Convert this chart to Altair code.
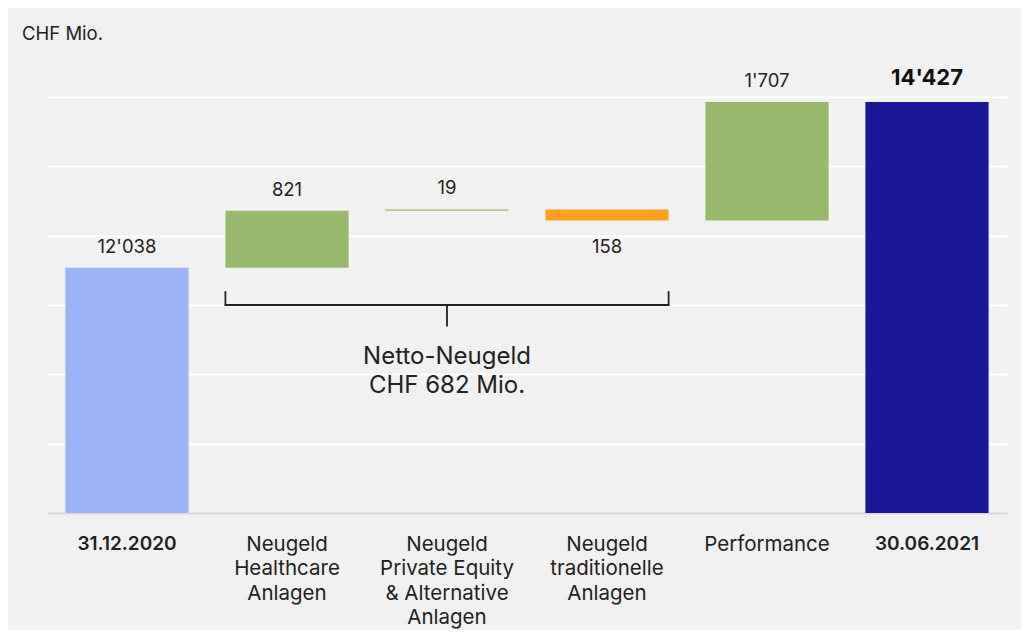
import altair as alt
import pandas as pd

# ---- data ----
categories = [
    "31.12.2020",
    "Neugeld|Healthcare|Anlagen",
    "Neugeld|Private Equity|& Alternative|Anlagen",
    "Neugeld|traditionelle|Anlagen",
    "Performance",
    "30.06.2021",
]
values = [12038, 821, 19, -158, 1707, 14427]
kinds = ["start", "up", "up", "down", "up", "end"]
value_labels = ["12'038", "821", "19", "158", "1'707", "14'427"]

axis_floor = 8500
grid_values = [9500, 10500, 11500, 12500, 13500, 14500]

bracket_from = categories[1]
bracket_mid = categories[2]
bracket_to = categories[3]
bracket_level = [11500]
bracket_arm = [11690]
bracket_tip = [11200]
bracket_text = ["Netto-Neugeld\nCHF 682 Mio."]
bracket_text_y = [10750]

# ---- waterfall table ----
rows = []
running = 0
for c, v, k, lab in zip(categories, values, kinds, value_labels):
    if k in ("start", "end"):
        lo, hi = axis_floor, v
        running = v
        top = v
    else:
        lo, hi = running, running + v
        running = running + v
        top = max(lo, hi)
    pos = "below" if k == "down" else "above"
    bold = k == "end"
    rows.append(dict(cat=c, lo=lo, hi=hi, kind=k, label=lab,
                     label_y=(min(lo, hi) if pos == "below" else top),
                     pos=pos, bold=bold))
df = pd.DataFrame(rows)

FONT = "Inter"
TXT = "#222222"
DATE_TEST = "datum.value == '31.12.2020' || datum.value == '30.06.2021'"

x_scale = alt.Scale(domain=categories, paddingInner=0.23, paddingOuter=0.115)
y_scale = alt.Scale(domain=[axis_floor, 14500], nice=False, zero=False)

x_enc = alt.X(
    "cat:N", scale=x_scale, sort=categories,
    axis=alt.Axis(
        title=None, labelAngle=0, ticks=False, grid=False,
        domainColor="#d9d9d9", domainWidth=2,
        labelExpr="split(datum.label, '|')",
        labelFont=FONT, labelColor=TXT,
        labelFontSize={"condition": {"test": DATE_TEST, "value": 19}, "value": 20.5},
        labelLineHeight=24.5, labelBaseline="top", labelPadding=21,
        labelFontWeight={"condition": {"test": DATE_TEST, "value": 600}, "value": 400},
    ),
)
y_enc = alt.Y(
    "lo:Q", scale=y_scale,
    axis=alt.Axis(title=None, values=grid_values, labels=False, ticks=False,
                  domain=False, gridColor="#ffffff", gridWidth=2),
)

base = alt.Chart(df)

bars = base.mark_bar().encode(
    x=x_enc,
    y=y_enc,
    y2="hi:Q",
    color=alt.Color("kind:N", legend=None,
                    scale=alt.Scale(domain=["start", "up", "down", "end"],
                                    range=["#9cb3f7", "#98b86e", "#ffa01e", "#1a1896"])),
)

lab_above = base.transform_filter("datum.pos == 'above' && !datum.bold").mark_text(
    font=FONT, fontSize=18.5, color=TXT, baseline="middle", dy=-21
).encode(x=alt.X("cat:N", scale=x_scale, sort=categories),
         y=alt.Y("label_y:Q", scale=y_scale), text="label:N")

lab_bold = base.transform_filter("datum.bold").mark_text(
    font=FONT, fontSize=22, fontWeight="bold", color="#111111", baseline="middle", dy=-24
).encode(x=alt.X("cat:N", scale=x_scale, sort=categories),
         y=alt.Y("label_y:Q", scale=y_scale), text="label:N")

lab_below = base.transform_filter("datum.pos == 'below'").mark_text(
    font=FONT, fontSize=18.5, color=TXT, baseline="middle", dy=27
).encode(x=alt.X("cat:N", scale=x_scale, sort=categories),
         y=alt.Y("label_y:Q", scale=y_scale), text="label:N")

bdf = pd.DataFrame(dict(c1=[bracket_from], c2=[bracket_to], cm=[bracket_mid],
                        lvl=bracket_level, arm=bracket_arm, tip=bracket_tip,
                        txt=bracket_text, ty=bracket_text_y))
bb = alt.Chart(bdf)
rule_kw = dict(color="#222222", strokeWidth=1.8, strokeCap="round")

br_h = bb.mark_rule(**rule_kw).encode(
    x=alt.X("c1:N", scale=x_scale, sort=categories, bandPosition=0),
    x2=alt.X2("c2:N", bandPosition=1),
    y=alt.Y("lvl:Q", scale=y_scale),
)
br_l = bb.mark_rule(**rule_kw).encode(
    x=alt.X("c1:N", scale=x_scale, sort=categories, bandPosition=0),
    y=alt.Y("lvl:Q", scale=y_scale), y2="arm:Q",
)
br_r = bb.mark_rule(**rule_kw).encode(
    x=alt.X("c2:N", scale=x_scale, sort=categories, bandPosition=1),
    y=alt.Y("lvl:Q", scale=y_scale), y2="arm:Q",
)
br_m = bb.mark_rule(**rule_kw).encode(
    x=alt.X("cm:N", scale=x_scale, sort=categories),
    y=alt.Y("lvl:Q", scale=y_scale), y2="tip:Q",
)
br_t = bb.mark_text(font=FONT, fontSize=24, color=TXT, lineBreak="\n",
                    lineHeight=29, baseline="middle").encode(
    x=alt.X("cm:N", scale=x_scale, sort=categories),
    y=alt.Y("ty:Q", scale=y_scale), text="txt:N",
)

chart = alt.layer(bars, lab_above, lab_bold, lab_below, br_h, br_l, br_r, br_m, br_t).properties(
    width=960, height=416,
    background="#f1f1f1",
    padding={"left": 39, "top": 89, "right": 14, "bottom": 117},
    autosize=alt.AutoSizeParams(type="none"),
    title=alt.TitleParams("CHF Mio.", anchor="start", frame="group", dx=-25,
                          fontSize=18.5, fontWeight="normal", font=FONT, color=TXT,
                          baseline="alphabetic", offset=9),
).configure_view(stroke=None)

chart.save("out.html", embed_options={"renderer": "svg", "actions": False})
